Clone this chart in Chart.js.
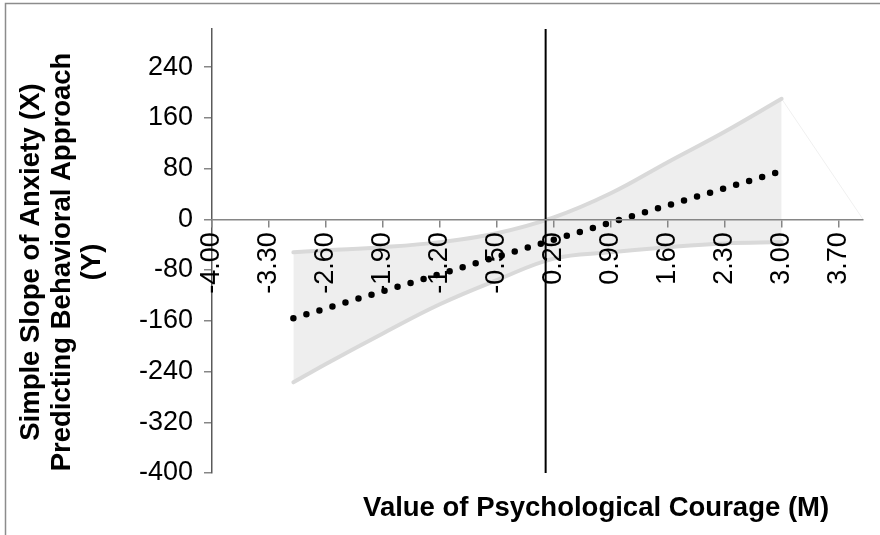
<!DOCTYPE html>
<html>
<head>
<meta charset="utf-8">
<title>Simple slope of anxiety</title>
<script src="https://cdn.jsdelivr.net/npm/chart.js@4.4.1/dist/chart.umd.min.js"></script>
<style>
    html, body { margin: 0; padding: 0; background: #fff; }
    #wrap { width: 880px; height: 535px; position: relative; }
</style>
</head>
<body>
<div id="wrap"><canvas id="slopeChart" width="880" height="535"></canvas></div>
<script>
const modValues = [-3.0, -2.6, -1.9, -1.2, -0.5, 0.2, 0.9, 1.6, 2.3, 3.0];
const upperBound = [-52, -49, -44, -36, -22, 3, 41, 90, 138, 190];
const lowerBound = [-257, -228, -180, -134, -96, -62, -52, -44, -38, -36];

// Simple slope (dotted line) end points
const slopeX = [-3.0, 3.0];
const slopeY = [-156, 76];

// Faint edge line past the end of the band
const edgeX = [3.0, 4.0];
const edgeY = [190, 0];

// Vertical marker line
const markerX = [0.1, 0.1];
const markerY = [-400, 300];

// Axes
const xTicks = [-4.00, -3.30, -2.60, -1.90, -1.20, -0.50, 0.20, 0.90, 1.60, 2.30, 3.00, 3.70];
const yTicks = [-400, -320, -240, -160, -80, 0, 80, 160, 240];
const xMin = -4, xMax = 4;
const yMin = -400, yMax = 300;

const xTitle = 'Value of Psychological Courage (M)';
const yTitle = ['Simple Slope of Anxiety (X)', 'Predicting Behavioral Approach', '(Y)'];

const FONT = '"Liberation Sans", Arial, sans-serif';

function toPoints(xs, ys) {
    return xs.map((x, i) => ({ x: x, y: ys[i] }));
}

// Grey frame round the chart (only top and left edges show in the crop)
const framePlugin = {
    id: 'frame',
    beforeDraw(chart) {
        const ctx = chart.ctx;
        ctx.save();
        ctx.fillStyle = '#fff';
        ctx.fillRect(0, 0, chart.width, chart.height);
        ctx.strokeStyle = '#8c8c8c';
        ctx.lineWidth = 1.5;
        ctx.beginPath();
        ctx.moveTo(5.5, chart.height);
        ctx.lineTo(5.5, 3.5);
        ctx.lineTo(chart.width, 3.5);
        ctx.stroke();
        ctx.restore();
    }
};

// Axis titles: the x axis crosses at y = 0, so both titles are placed by hand
const titlesPlugin = {
    id: 'axisTitles',
    afterDraw(chart) {
        const area = chart.chartArea;
        const ctx = chart.ctx;
        ctx.save();
        ctx.font = 'bold 27.5px ' + FONT;
        ctx.fillStyle = '#000';
        ctx.textAlign = 'center';
        ctx.textBaseline = 'middle';
        ctx.fillText(xTitle, area.left + (area.right - area.left) * 0.59, area.bottom + 35);

        // rotated y title, three lines
        const midY = (area.top + area.bottom) / 2 + 11;
        ctx.translate(31.5, midY);
        ctx.rotate(-Math.PI / 2);
        yTitle.forEach((line, i) => {
            ctx.fillText(line, 0, i * 30.5);
        });
        ctx.restore();
    }
};

const ctx = document.getElementById('slopeChart').getContext('2d');

new Chart(ctx, {
    type: 'scatter',
    data: {
        datasets: [
            {
                label: 'Simple slope',
                data: toPoints(slopeX, slopeY),
                showLine: true,
                borderColor: '#000',
                borderWidth: 6.5,
                borderDash: [0, 13.6],
                borderCapStyle: 'round',
                pointRadius: 0,
                fill: false
            },
            {
                label: 'Marker',
                data: toPoints(markerX, markerY),
                showLine: true,
                borderColor: '#000',
                borderWidth: 2,
                pointRadius: 0,
                fill: false
            },
            {
                label: 'Upper bound',
                data: toPoints(modValues, upperBound),
                showLine: true,
                borderColor: '#d9d9d9',
                borderWidth: 4,
                borderCapStyle: 'round',
                backgroundColor: '#eeeeee',
                tension: 0.4,
                pointRadius: 0,
                fill: '+1'
            },
            {
                label: 'Lower bound',
                data: toPoints(modValues, lowerBound),
                showLine: true,
                borderColor: '#d9d9d9',
                borderWidth: 4,
                borderCapStyle: 'round',
                tension: 0.4,
                pointRadius: 0,
                fill: false
            },
            {
                label: 'Edge',
                data: toPoints(edgeX, edgeY),
                showLine: true,
                borderColor: '#f0f0f0',
                borderWidth: 1,
                pointRadius: 0,
                fill: false
            }
        ]
    },
    options: {
        responsive: false,
        animation: false,
        layout: {
            padding: { top: 29, right: 17, bottom: 62, left: 0 }
        },
        plugins: {
            legend: { display: false },
            tooltip: { enabled: false },
            filler: { drawTime: 'beforeDatasetsDraw' }
        },
        scales: {
            x: {
                type: 'linear',
                min: xMin,
                max: xMax,
                position: { y: 0 },
                afterBuildTicks: function(scale) {
                    scale.ticks = xTicks.map(v => ({ value: v }));
                },
                grid: {
                    drawOnChartArea: false,
                    drawTicks: true,
                    tickLength: 7,
                    color: '#868686',
                    lineWidth: 1.5,
                    z: 1
                },
                border: { color: '#868686', width: 1.5, z: 1 },
                ticks: {
                    autoSkip: false,
                    minRotation: 90,
                    maxRotation: 90,
                    padding: 6,
                    color: '#000',
                    font: { family: FONT, size: 27 },
                    callback: v => Number(v).toFixed(2),
                    z: 1
                }
            },
            y: {
                type: 'linear',
                min: yMin,
                max: yMax,
                afterBuildTicks: function(scale) {
                    scale.ticks = yTicks.map(v => ({ value: v }));
                },
                afterFit: function(scale) {
                    scale.width = 212;
                },
                grid: {
                    drawOnChartArea: false,
                    drawTicks: true,
                    tickLength: 8,
                    color: '#868686',
                    lineWidth: 1.5
                },
                border: { color: '#5a5a5a', width: 1.5 },
                ticks: {
                    autoSkip: false,
                    padding: 11,
                    color: '#000',
                    font: { family: FONT, size: 27 }
                }
            }
        }
    },
    plugins: [framePlugin, titlesPlugin]
});
</script>
</body>
</html>
